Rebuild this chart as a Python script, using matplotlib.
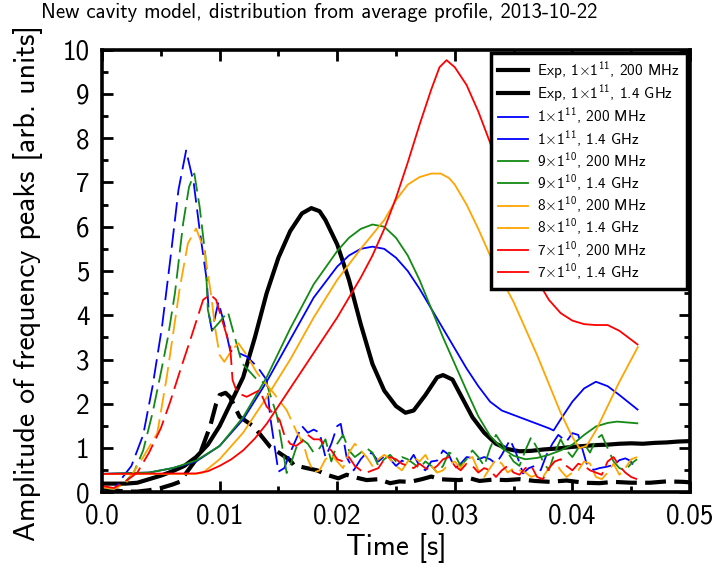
import numpy as np
import matplotlib
matplotlib.use("Agg")
import matplotlib.pyplot as plt
from matplotlib.lines import Line2D

plt.rcParams['font.family'] = ['cmss10', 'DejaVu Sans']
plt.rcParams['mathtext.fontset'] = 'custom'
plt.rcParams['mathtext.rm'] = 'cmss10'
plt.rcParams['mathtext.it'] = 'cmss10'
plt.rcParams['mathtext.sf'] = 'cmss10'
plt.rcParams['axes.formatter.use_mathtext'] = True
plt.rcParams['lines.scale_dashes'] = False

# ---------------- data (time in ms) ----------------
t_exp200 = [0, 2, 3, 4, 5, 6, 7, 8, 9, 10, 11, 12, 13, 14, 15, 16, 17, 17.8, 18.5, 19, 20, 21, 22, 23, 24,
            25, 25.8, 26.5, 27.5, 28.5, 29, 29.8, 30.5, 31.5, 32.5, 33.5, 34.5, 35.5, 36.5, 37.5, 39, 40,
            41, 42, 43, 44, 45, 46, 47, 48, 49, 50]
v_exp200 = [0.2, 0.2, 0.22, 0.3, 0.38, 0.48, 0.6, 0.8, 1.08, 1.5, 2.05, 2.6, 3.5, 4.5, 5.3, 5.9, 6.3, 6.42,
            6.35, 6.15, 5.6, 4.8, 3.8, 2.9, 2.3, 1.95, 1.8, 1.85, 2.2, 2.6, 2.65, 2.55, 2.2, 1.7, 1.35, 1.1,
            0.98, 0.93, 0.94, 0.97, 1.0, 1.03, 1.05, 1.07, 1.08, 1.1, 1.11, 1.1, 1.12, 1.13, 1.15, 1.16]

t_exp14 = [0, 1, 2, 3, 4, 5, 6, 6.6, 7.6, 8.3, 9.2, 9.7, 10.0, 10.5, 10.9, 11.7, 12.9, 14.3, 16.0, 16.3,
           17.4, 18.3, 19.1, 20.1, 20.8, 21.7, 22.5, 23.5, 24.5, 25.3, 26.2, 27.2, 28.0, 28.7, 29.4,
           30.4, 31.3, 32.1, 33.2, 34.4, 35.5, 36.8, 38.1, 39.5, 41.0, 42.3, 43.5, 45.0, 46.6, 48.0, 49.4, 50]
v_exp14 = [0.1, 0.05, 0.02, 0.02, 0.05, 0.1, 0.18, 0.24, 0.6, 0.85, 1.5, 2.0, 2.2, 2.25, 2.15, 1.71, 1.49,
           1.03, 0.73, 0.62, 0.55, 0.5, 0.4, 0.32, 0.4, 0.33, 0.28, 0.3, 0.21, 0.25, 0.24, 0.3, 0.36, 0.3,
           0.29, 0.28, 0.32, 0.26, 0.29, 0.28, 0.3, 0.26, 0.24, 0.27, 0.22, 0.21, 0.24, 0.22, 0.22, 0.25,
           0.24, 0.23]

t_b200 = [0, 4, 6, 8, 10, 12, 14, 16, 18, 20, 21, 22, 23, 24, 25, 26, 27, 28, 29, 30, 31, 32, 33, 34, 35,
          36, 37, 38, 38.4, 39, 40, 41, 42, 43, 44, 45.6]
v_b200 = [0.42, 0.45, 0.55, 0.7, 1.05, 1.65, 2.5, 3.45, 4.4, 5.1, 5.35, 5.5, 5.55, 5.5, 5.3, 5.0, 4.6,
          4.15, 3.7, 3.25, 2.8, 2.4, 2.05, 1.85, 1.75, 1.65, 1.55, 1.45, 1.4, 1.65, 2.05, 2.35, 2.5, 2.4,
          2.2, 1.86]

t_g200 = [0, 4, 6, 8, 10, 12, 14, 16, 18, 20, 21, 22, 23, 24, 25, 26, 27, 28, 29, 30, 31, 32, 33, 34, 35,
          36, 37, 38, 39, 40, 41, 42, 43, 43.8, 45.6]
v_g200 = [0.42, 0.45, 0.55, 0.72, 1.05, 1.7, 2.6, 3.7, 4.7, 5.45, 5.75, 5.95, 6.05, 6.0, 5.75, 5.35,
          4.8, 4.15, 3.5, 2.9, 2.3, 1.72, 1.28, 1.0, 0.83, 0.75, 0.78, 0.85, 0.95, 1.08, 1.3, 1.49, 1.57,
          1.6, 1.56]

t_o200 = [0, 4, 8, 8.6, 10, 12, 14, 16, 18, 20, 22, 24, 25, 26, 27, 28, 28.8, 29.5, 30, 31, 32, 33, 34,
          35, 36, 37, 38, 39, 40, 40.6, 41.2, 42, 43, 44, 45, 45.6]
v_o200 = [0.42, 0.42, 0.42, 0.45, 0.75, 1.35, 2.15, 3.0, 3.95, 4.8, 5.5, 6.15, 6.6, 6.95, 7.12, 7.2, 7.2,
          7.1, 6.95, 6.5, 5.95, 5.35, 4.8, 4.3, 3.7, 3.1, 2.45, 1.8, 1.25, 1.0, 1.05, 1.4, 1.95, 2.5, 3.0,
          3.3]

t_r200 = [0, 8, 9, 10, 11, 12, 13, 14, 15, 16, 17, 18, 19, 20, 21, 22, 23, 24, 25, 26, 27, 28, 28.7, 29.3,
          30, 31, 32, 33, 34, 35, 36, 37, 38, 39, 40, 41, 42, 43, 44, 45, 45.6]
v_r200 = [0.42, 0.43, 0.48, 0.6, 0.75, 0.95, 1.22, 1.55, 1.95, 2.35, 2.75, 3.15, 3.55, 3.95, 4.4, 4.85,
          5.35, 5.95, 6.65, 7.45, 8.3, 9.1, 9.6, 9.76, 9.6, 9.2, 8.6, 7.9, 7.1, 6.3, 5.5, 4.8, 4.35, 4.05,
          3.88, 3.8, 3.78, 3.78, 3.65, 3.45, 3.33]

t_b14 = [0, 1, 1.8, 2.5, 3.5, 4.3, 5.1, 5.8, 6.5, 7.15, 7.8, 8.3, 8.9, 9.1, 9.35, 9.9, 10.4, 10.9, 11.6,
         12.3, 13.2, 14.0, 14.3, 14.7, 15.0, 15.5, 16, 16.5, 17, 17.5, 18, 18.5, 19, 19.5, 20, 20.3, 20.8,
         21.4, 22, 22.5, 23, 23.5, 24, 24.5, 25, 25.5, 26, 26.5, 27, 27.5, 28, 28.5, 29, 29.5, 30, 30.5,
         31, 31.5, 32, 32.5, 33, 33.5, 34, 34.7, 35.2, 35.8, 36.3, 36.8, 37.3, 37.8, 38.3, 38.8, 39.5,
         40.0, 40.5, 41.2, 41.8, 42.3, 42.9, 43.5, 44.0, 44.5, 44.9, 45.5]
v_b14 = [0.12, 0.07, 0.36, 0.6, 1.3, 2.4, 3.74, 5.25, 6.83, 7.72, 6.98, 5.93, 4.8, 4.0, 3.65, 4.3, 3.8,
         3.2, 3.15, 3.07, 2.84, 2.54, 1.71, 1.0, 0.47, 0.55, 0.9, 1.2, 1.5, 1.35, 1.42, 1.35, 0.8, 1.1, 1.5,
         1.55, 0.8, 0.5, 0.75, 0.9, 0.88, 0.7, 0.82, 0.75, 0.6, 0.72, 0.65, 0.85, 0.6, 0.5, 0.7, 0.72,
         0.95, 0.85, 0.55, 0.65, 0.8, 0.78, 0.75, 0.8, 0.75, 0.65, 0.85, 1.19, 0.9, 0.43, 0.55, 0.6, 0.5,
         0.85, 1.1, 1.3, 1.15, 1.34, 1.3, 0.66, 0.51, 0.55, 0.58, 0.62, 0.73, 0.77, 0.72, 0.51]

t_g14 = [0, 1, 2, 2.7, 3.5, 4.3, 5, 5.6, 6.2, 6.9, 7.4, 7.85, 8.3, 8.8, 9.0, 9.4, 10, 10.7, 11.2, 11.9,
         13.2, 14.0, 14.9, 15.7, 16, 16.5, 17, 17.5, 18, 18.5, 19, 19.5, 20, 20.5, 21, 21.5, 22, 22.5, 23,
         23.5, 24, 24.5, 25, 25.5, 26, 26.5, 27, 27.5, 28, 28.5, 29, 29.5, 30, 30.5, 31, 31.5, 32, 32.5,
         33, 33.5, 34, 34.5, 35, 35.5, 36, 36.5, 37, 37.5, 38, 38.5, 39, 39.5, 40, 40.5, 41, 41.5, 42,
         42.5, 43, 43.5, 44, 44.5, 45, 45.5]
v_g14 = [0.12, 0.07, 0.25, 0.45, 0.95, 1.8, 2.7, 3.5, 4.5, 6.08, 6.9, 7.2, 6.45, 5.32, 4.12, 3.67, 3.85,
         4.08, 3.59, 2.92, 2.54, 2.46, 1.71, 0.44, 0.6, 1.0, 1.2, 1.1, 0.9, 1.0, 1.2, 0.7, 1.1, 1.3, 0.95,
         0.8, 0.9, 1.0, 0.9, 0.6, 0.75, 0.85, 0.7, 0.8, 0.75, 0.65, 0.55, 0.7, 0.6, 0.45, 0.6, 0.9, 0.85,
         0.6, 0.75, 0.95, 0.8, 0.6, 1.0, 1.3, 1.1, 0.9, 0.7, 0.6, 0.95, 1.25, 1.0, 0.7, 0.5, 0.9, 1.2,
         0.95, 0.8, 1.0, 1.1, 0.9, 1.2, 1.3, 1.0, 0.7, 0.55, 0.5, 0.65, 0.75]

t_o14 = [0, 1, 2, 2.7, 3.5, 4.7, 5.5, 6, 6.6, 7.3, 8, 8.7, 9.3, 9.6, 10, 10.4, 11, 11.6, 12.2, 13.2, 14.6,
         15.7, 16.6, 17.1, 17.5, 18, 18.5, 19, 19.5, 20, 20.5, 21, 21.5, 22, 22.5, 23, 23.5, 24, 24.5, 25,
         25.5, 26, 26.5, 27, 27.5, 28, 28.5, 29, 29.5, 30, 30.5, 31, 31.5, 32, 32.5, 33, 33.5, 34, 34.5,
         35, 35.5, 36, 36.5, 37, 37.5, 38, 38.5, 39, 39.5, 40, 40.5, 41, 41.5, 42, 42.5, 43, 43.5, 44,
         44.5, 45, 45.5]
v_o14 = [0.12, 0.08, 0.2, 0.47, 0.8, 1.34, 2.6, 3.5, 4.6, 5.62, 5.96, 5.47, 4.42, 3.74, 3.1, 2.95, 3.2,
         3.37, 3.14, 2.69, 2.24, 1.86, 1.34, 1.12, 0.75, 0.45, 0.5, 0.75, 0.85, 0.7, 0.55, 0.9, 1.1, 0.95,
         0.8, 0.6, 0.75, 0.85, 0.75, 0.6, 0.5, 0.7, 0.8, 0.7, 0.85, 0.6, 0.45, 0.5, 0.65, 0.7, 0.55, 0.75,
         0.8, 0.5, 0.35, 0.55, 0.75, 0.65, 0.45, 0.55, 0.5, 0.45, 0.35, 0.4, 0.35, 0.55, 0.7, 0.5, 0.35,
         0.45, 0.5, 0.7, 0.65, 0.35, 0.3, 0.45, 0.65, 0.4, 0.55, 0.75, 0.8]

t_r14 = [0, 1, 2, 3, 4, 5, 5.8, 6.7, 7.5, 8.6, 9.2, 9.7, 10.2, 10.9, 11.1, 11.5, 12.3, 13.4, 14.0, 15.1,
         15.5, 16, 16.5, 17, 17.5, 18, 18.5, 19, 19.5, 20, 20.5, 21, 21.5, 22, 22.5, 23, 23.5, 24, 24.5,
         25, 25.5, 26, 26.5, 27, 27.5, 28, 28.5, 29, 29.5, 30, 30.5, 31, 31.5, 32, 32.5, 33, 33.5, 34,
         34.5, 35, 35.5, 36, 36.5, 37, 37.5, 38, 38.5, 39, 39.5, 40, 40.5, 41, 41.5, 42, 42.5, 43, 43.5,
         44, 44.5, 45, 45.5]
v_r14 = [0.15, 0.1, 0.25, 0.45, 0.9, 1.45, 2.05, 2.8, 3.44, 4.35, 4.47, 4.35, 3.9, 3.29, 2.54, 2.25, 2.16,
         2.31, 1.94, 1.64, 1.3, 1.1, 1.05, 1.15, 1.3, 1.2, 1.2, 1.05, 0.95, 0.75, 0.7, 0.8, 0.6, 0.5, 0.45,
         0.5, 0.55, 0.75, 0.8, 0.75, 0.65, 0.6, 0.55, 0.65, 0.55, 0.5, 0.6, 0.75, 0.8, 0.6, 0.5, 0.65, 0.6,
         0.45, 0.55, 0.5, 0.35, 0.5, 0.6, 0.45, 0.4, 0.55, 0.6, 0.35, 0.3, 0.55, 0.7, 0.75, 0.6, 0.5, 0.65,
         0.6, 0.5, 0.45, 0.4, 0.7, 0.8, 0.6, 0.45, 0.35, 0.3]

labels = [r'Exp, 1$\times$1$^{11}$, 200 MHz', r'Exp, 1$\times$1$^{11}$, 1.4 GHz',
          r'1$\times$1$^{11}$, 200 MHz', r'1$\times$1$^{11}$, 1.4 GHz',
          r'9$\times$1$^{10}$, 200 MHz', r'9$\times$1$^{10}$, 1.4 GHz',
          r'8$\times$1$^{10}$, 200 MHz', r'8$\times$1$^{10}$, 1.4 GHz',
          r'7$\times$1$^{10}$, 200 MHz', r'7$\times$1$^{10}$, 1.4 GHz']
xticks = [0.0, 0.01, 0.02, 0.03, 0.04, 0.05]
xticklabels = ['0.0', '0.01', '0.02', '0.03', '0.04', '0.05']
yticks = list(range(0, 11))
yticklabels = [str(v) for v in yticks]

# ---------------- plot ----------------
BLUE, GREEN, ORANGE, RED = '#0000ff', '#138a13', '#ffa500', '#ff0000'
series = [
    (t_exp200, v_exp200, 'k', 3.0, None),
    (t_exp14, v_exp14, 'k', 3.0, (15, 6)),
    (t_b200, v_b200, BLUE, 1.3, None),
    (t_b14, v_b14, BLUE, 1.3, (14, 5)),
    (t_g200, v_g200, GREEN, 1.3, None),
    (t_g14, v_g14, GREEN, 1.3, (14, 5)),
    (t_o200, v_o200, ORANGE, 1.3, None),
    (t_o14, v_o14, ORANGE, 1.3, (14, 5)),
    (t_r200, v_r200, RED, 1.3, None),
    (t_r14, v_r14, RED, 1.3, (14, 5)),
]

fig = plt.figure(figsize=(7.17, 5.76), dpi=100)
ax = fig.add_axes([0.1423, 0.145, 0.820, 0.769])

handles = []
for (t, v, c, lw, d), lab in zip(series, labels):
    ln, = ax.plot(np.array(t) / 1000.0, v, color=c, lw=lw, solid_capstyle='butt')
    if d is not None:
        ln.set_dashes(d)
    handles.append(Line2D([], [], color=c, lw=lw, label=lab))

ax.set_xlim(0, 0.05)
ax.set_ylim(0, 10)
ax.set_xticks(xticks)
ax.set_xticklabels(xticklabels)
ax.set_yticks(yticks)
ax.set_yticklabels(yticklabels)
ax.set_xticks(np.arange(0.005, 0.05, 0.01), minor=True)
ax.set_yticks(np.arange(0.5, 10, 1.0), minor=True)
ax.tick_params(which='both', direction='in', top=True, right=True, width=2.0, labelsize=19.5)
ax.tick_params(axis='x', pad=8)
ax.tick_params(axis='y', pad=9)
ax.tick_params(which='major', length=8)
ax.tick_params(which='minor', length=4)
for s in ax.spines.values():
    s.set_linewidth(2.6)

ax.set_xlabel('Time [s]', fontsize=21, labelpad=3)
ax.set_ylabel('Amplitude of frequency peaks [arb. units]', fontsize=21.5)
ax.yaxis.set_label_coords(-0.1, 0.473)
fig.text(0.057, 0.995, 'New cavity model, distribution from average profile, 2013-10-22',
         fontsize=15, ha='left', va='top')

leg = ax.legend(handles=handles, loc='upper right', fontsize=11, frameon=True, fancybox=False,
                borderaxespad=0.2, handlelength=1.95, labelspacing=0.12, borderpad=0.45,
                handletextpad=0.65)
leg.get_frame().set_edgecolor('black')
leg.get_frame().set_linewidth(2.5)
leg.get_frame().set_alpha(1.0)

fig.savefig('out.png', dpi=100)
